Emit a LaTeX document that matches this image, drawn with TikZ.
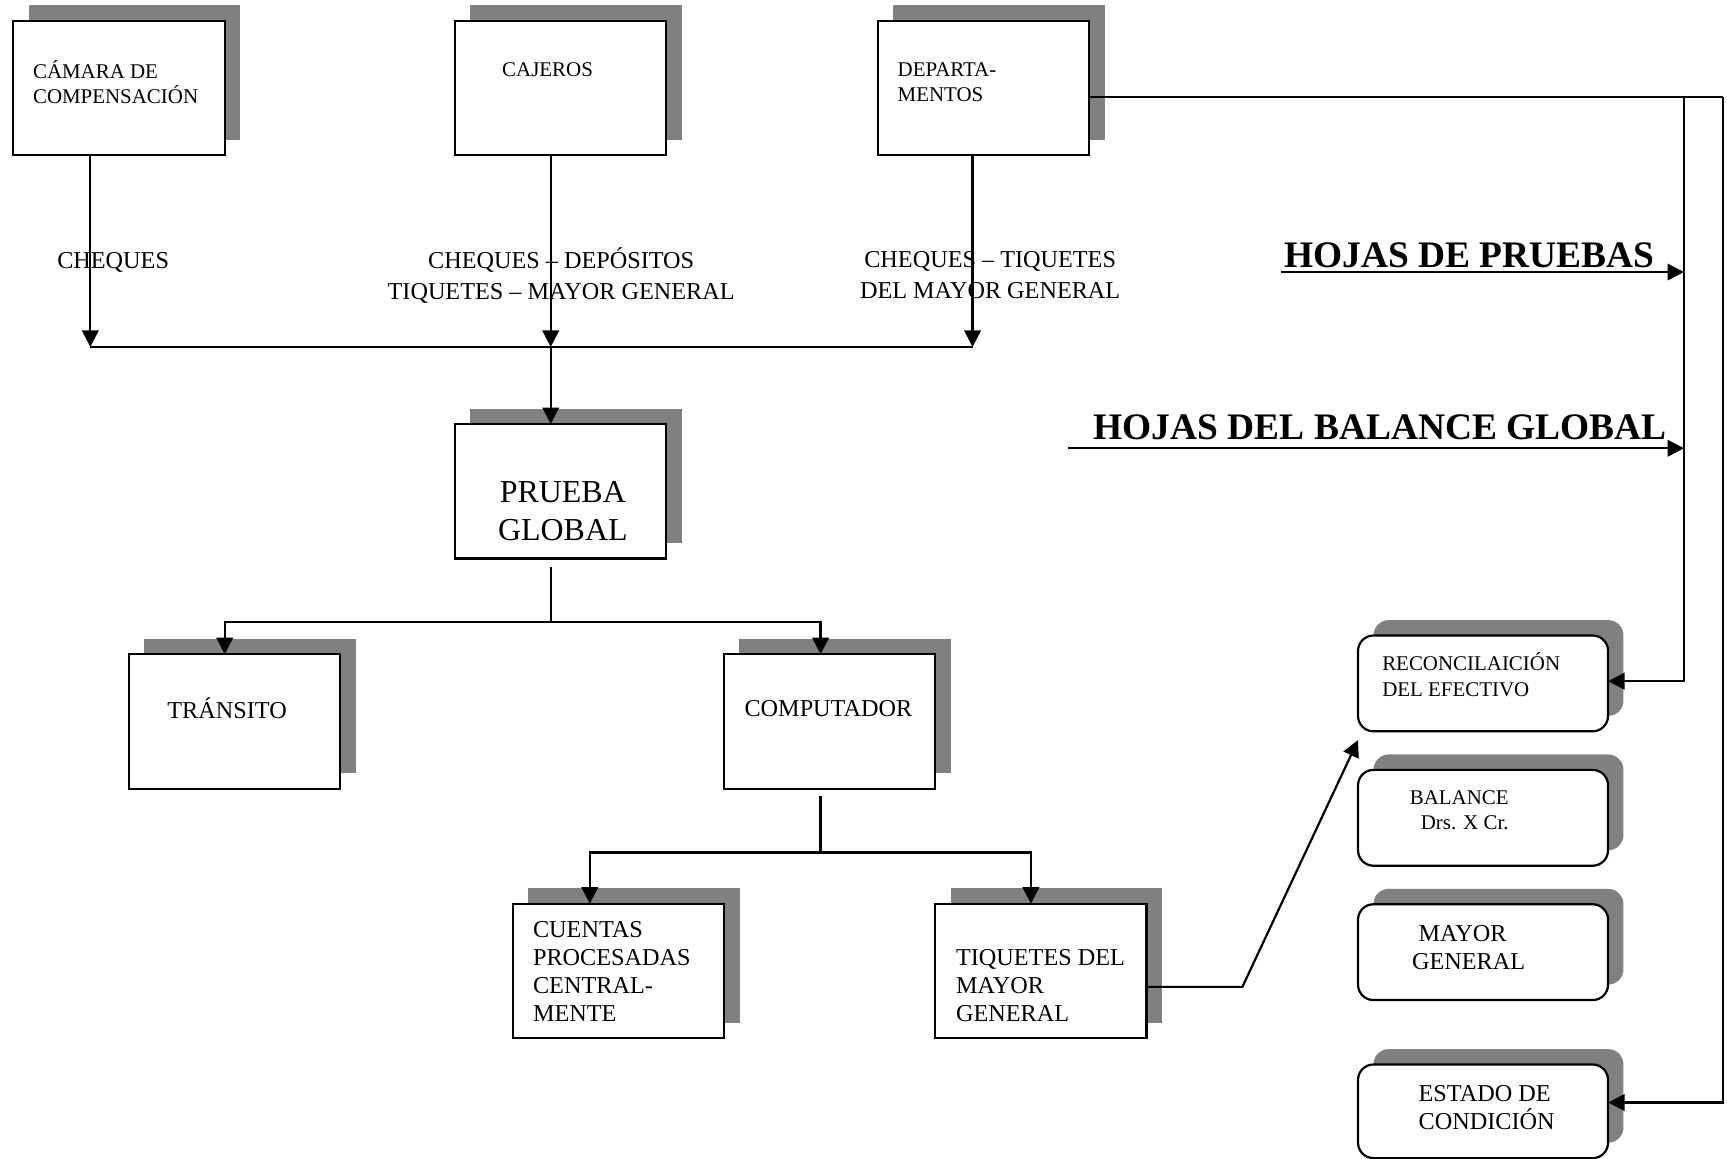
\documentclass[tikz,border=0pt]{standalone}
\usepackage{fontspec}
\setmainfont{Liberation Serif}
\usetikzlibrary{arrows.meta,positioning,shadows}

\begin{document}
\begin{tikzpicture}[x=0.5pt, y=-0.5pt, >={Triangle[length=7.5pt,width=7.5pt]}, line width=1pt,
  every node/.style={inner sep=0pt, outer sep=0pt},
  box/.style={draw, fill=white, minimum width=96pt, minimum height=61pt, drop shadow={shadow xshift=7pt, shadow yshift=7pt, opacity=1, fill=black!50}},
  rbox/.style={box, rounded corners=7pt, minimum width=113.5pt, minimum height=43.5pt},
  small/.style={align=left, anchor=west, font=\fontsize{9.5}{11.5}\selectfont},
  txt/.style={align=left, anchor=west, font=\fontsize{11}{12.7}\selectfont},
  lbl/.style={align=center, font=\fontsize{11}{14}\selectfont},
  title/.style={anchor=west, font=\fontsize{17}{20}\selectfont\bfseries}]
\useasboundingbox (0,0) rectangle (1568,1052);

% top row
\node[box] (camara) at (108,80) {};
\node[box] (cajeros) at (509,80) {};
\node[box] (deptos) at (893,80) {};
\node[small] (camaraT) at (30,74.5) {CÁMARA DE\\COMPENSACIÓN};
\node[small] (cajerosT) at (456,63) {CAJEROS};
\node[small] (deptosT) at (815,74.5) {DEPARTA-\\MENTOS};

\node[lbl, anchor=west] (chq1) at (52,238) {CHEQUES};
\node[lbl] (chq2) at (509.5,250) {CHEQUES – DEPÓSITOS\\TIQUETES – MAYOR GENERAL};
\node[lbl] (chq3) at (899,250) {CHEQUES – TIQUETES\\DEL MAYOR GENERAL};

\coordinate (jCam) at (82,315);
\coordinate (jCaj) at (500,315);
\coordinate (jDep) at (883,315);
\draw[->] (camara.south -| jCam) -- (jCam);
\draw[->] (cajeros.south -| jCaj) -- (jCaj);
\draw[->] (deptos.south -| jDep) -- (jDep);
\draw (jCam) -- (jDep);

% prueba global
\node[box] (prueba) at (509,446) {};
\node[lbl, font=\fontsize{14.5}{17}\selectfont] (pruebaT) at (511,464) {PRUEBA\\GLOBAL};
\draw[->] (jCaj) -- (prueba.north -| jCaj);

\node[box] (transito) at (213,655) {};
\node[box] (computador) at (753,655) {};
\node[txt] (transitoT) at (152,643) {TRÁNSITO};
\node[txt] (computadorT) at (676,643) {COMPUTADOR};

\coordinate (jPru) at (500,565);
\draw[shorten <=4pt] (prueba.south -| jPru) -- (jPru);
\draw[->] (jPru) -| ([xshift=-4.5pt]transito.north);
\draw[->] (jPru) -| ([xshift=-4pt]computador.north);

\node[box] (cuentas) at (561.5,881.5) {};
\node[box] (tiquetes) at (945,881.5) {};
\node[txt] (cuentasT) at (484,882) {CUENTAS\\PROCESADAS\\CENTRAL-\\MENTE};
\node[txt] (tiquetesT) at (868,895) {TIQUETES DEL\\MAYOR\\GENERAL};

\coordinate (jCom) at (745,774);
\draw[shorten <=3.5pt] (computador.south -| jCom) -- (jCom);
\draw[->] (jCom) -| ([xshift=-13pt]cuentas.north);
\draw[->] (jCom) -| ([xshift=-4.5pt]tiquetes.north);

% right column
\node[rbox] (reconc) at (1346.5,620.5) {};
\node[rbox] (balance) at (1346.5,742.5) {};
\node[rbox] (mayor) at (1346.5,864.5) {};
\node[rbox, minimum height=42.5pt] (estado) at (1346.5,1009) {};
\node[small] (reconcT) at (1255,612.5) {RECONCILAICIÓN\\DEL EFECTIVO};
\node[small] (balanceT) at (1280,735.5) {BALANCE\\\hspace*{5pt}Drs. X Cr.};
\node[txt] (mayorT) at (1282,860.5) {\hspace*{3pt}MAYOR\\GENERAL};
\node[txt] (estadoT) at (1288,1005.5) {ESTADO DE\\CONDICIÓN};

\coordinate (kink) at (1128,896);
\draw[->] (tiquetes.east |- kink) -- (kink) -- ([yshift=-4pt]reconc.south west);

\coordinate (rA) at (1529,88);
\coordinate (rB) at (1564,88);
\draw (deptos.east |- rB) -- (rB);
\draw[->] (rA) |- ([yshift=1pt]reconc.east);
\draw[->] (rB) |- ([yshift=4pt]estado.east);

\node[title] (hojasP) at (1166,232) {HOJAS DE PRUEBAS};
\node[title] (hojasB) at (993,388) {HOJAS DEL BALANCE GLOBAL};
\coordinate (hpS) at (1163,247);
\coordinate (hbS) at (970,407);
\draw[->] (hpS) -- (hpS -| rA);
\draw[->] (hbS) -- (hbS -| rA);
\end{tikzpicture}
\end{document}
